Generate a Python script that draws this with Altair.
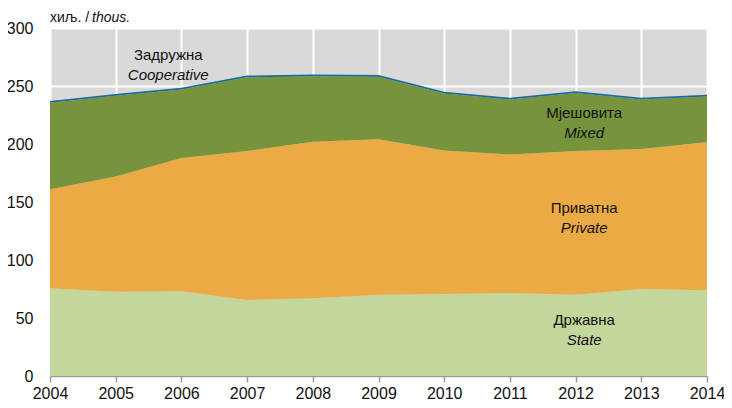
import altair as alt
import pandas as pd

years = [2004, 2005, 2006, 2007, 2008, 2009, 2010, 2011, 2012, 2013, 2014]
state = [75.6, 72.7, 73.0, 65.5, 67.0, 70.0, 70.7, 71.5, 70.0, 75.0, 74.0]
private = [85.4, 99.3, 115.0, 128.5, 135.0, 134.0, 123.8, 119.5, 124.0, 120.7, 127.5]
mixed = [74.5, 69.5, 59.0, 63.5, 56.5, 54.0, 49.0, 47.4, 50.0, 42.7, 39.5]
coop = [1.5, 1.5, 1.5, 1.5, 1.5, 1.5, 1.5, 1.5, 1.5, 1.5, 1.5]

series_names = ["State", "Private", "Mixed", "Cooperative"]
series_colors = ["#c3d69b", "#ebaa44", "#77933c", "#1b6a9c"]

FONT = "Liberation Sans"

rows = []
for i, name in enumerate(series_names):
    vals = [state, private, mixed, coop][i]
    for y, v in zip(years, vals):
        rows.append({"year": y, "value": v, "series": name, "ord": i})
df = pd.DataFrame(rows)

label_x = [2005.8, 2005.8, 2012.13, 2012.13, 2012.13, 2012.13, 2012.13, 2012.13]
label_y = [276.7, 259.5, 226.7, 209.5, 144.8, 127.6, 48.3, 31.0]
label_text = ["Задружна", "Cooperative", "Мјешовита", "Mixed", "Приватна", "Private", "Државна", "State"]
label_italic = [False, True, False, True, False, True, False, True]
labels = pd.DataFrame({"x": label_x, "y": label_y, "text": label_text, "italic": label_italic})

unit_df = pd.DataFrame({"x": [2004], "y": [300]})

xscale = alt.Scale(domain=[2004, 2014], nice=False, zero=False)
yscale = alt.Scale(domain=[0, 300], nice=False)

areas = alt.Chart(df).mark_area(opacity=1).encode(
    x=alt.X("year:Q", scale=xscale,
            axis=alt.Axis(values=years, format="d", title=None, grid=True,
                          gridColor="white", gridWidth=2, domain=True,
                          domainColor="#9a9a9a", domainWidth=1.5,
                          ticks=True, tickColor="#9a9a9a", tickSize=6, tickWidth=1.5,
                          labelPadding=3, labelFontSize=16, labelColor="#111111",
                          labelFont=FONT, labelFlush=False, labelOverlap=False)),
    y=alt.Y("value:Q", stack="zero", scale=yscale,
            axis=alt.Axis(values=[0, 50, 100, 150, 200, 250, 300], title=None,
                          grid=True, gridColor="white", gridWidth=2,
                          domain=False, ticks=False, labelPadding=17,
                          labelFontSize=16, labelColor="#111111",
                          labelFont=FONT)),
    color=alt.Color("series:N", scale=alt.Scale(domain=series_names, range=series_colors), legend=None),
    order=alt.Order("ord:Q"),
)

normal_txt = alt.Chart(labels).transform_filter("!datum.italic").mark_text(
    font=FONT, fontSize=15, color="#111111", align="center", baseline="middle"
).encode(x=alt.X("x:Q", scale=xscale), y=alt.Y("y:Q", scale=yscale), text="text:N")

italic_txt = alt.Chart(labels).transform_filter("datum.italic").mark_text(
    font=FONT, fontSize=15, fontStyle="italic", color="#111111",
    align="center", baseline="middle"
).encode(x=alt.X("x:Q", scale=xscale), y=alt.Y("y:Q", scale=yscale), text="text:N")

unit1 = alt.Chart(unit_df).mark_text(
    font=FONT, fontSize=14, color="#111111", align="left",
    baseline="alphabetic", dy=-6
).encode(x=alt.X("x:Q", scale=xscale), y=alt.Y("y:Q", scale=yscale), text=alt.value("хиљ. /"))

unit2 = alt.Chart(unit_df).mark_text(
    font=FONT, fontSize=14, fontStyle="italic", color="#111111", align="left",
    baseline="alphabetic", dy=-6, dx=42
).encode(x=alt.X("x:Q", scale=xscale), y=alt.Y("y:Q", scale=yscale), text=alt.value("thous."))

chart = alt.layer(areas, normal_txt, italic_txt, unit1, unit2).properties(
    width=657, height=348,
    padding={"left": 42, "top": 20, "right": 17, "bottom": 30},
    autosize=alt.AutoSizeParams(type="none"),
).configure_view(fill="#d9d9d9", strokeWidth=0)

chart.save("out.html", embed_options={"renderer": "svg", "actions": False})
